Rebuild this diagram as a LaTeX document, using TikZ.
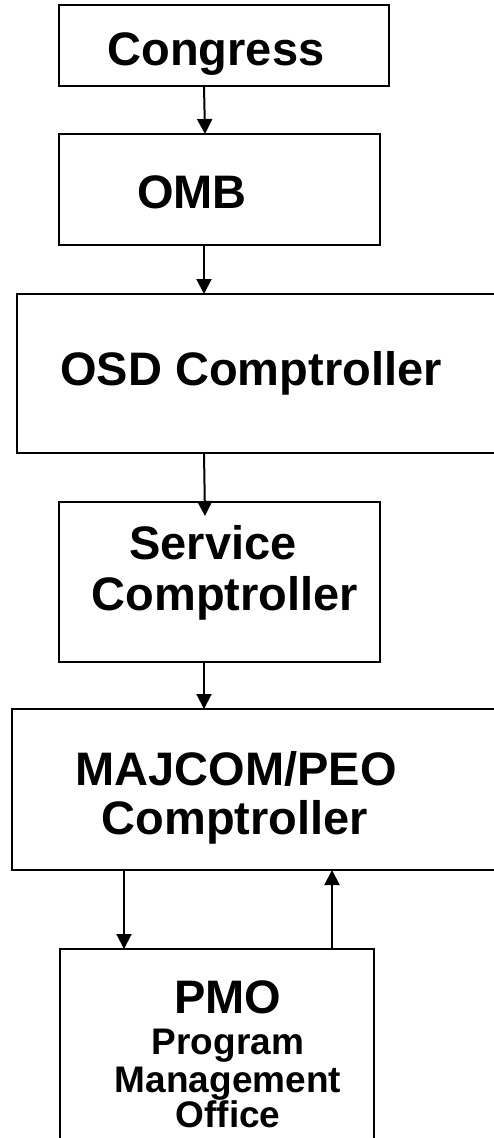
\documentclass[tikz,border=0pt]{standalone}
\usepackage{fontspec}
\setmainfont{Liberation Sans}
\usetikzlibrary{arrows.meta}
\tikzset{
  box/.style={draw=black, line width=2pt, inner sep=0pt, outer sep=0pt, anchor=north west},
  big/.style={inner sep=0pt, anchor=base, font=\fontsize{47}{52}\selectfont\bfseries},
  small/.style={inner sep=0pt, anchor=base, font=\fontsize{37}{38}\selectfont\bfseries},
  flow/.style={draw=black, line width=2pt, -{Triangle[width=15pt,length=15pt]}}
}
\begin{document}
\begin{tikzpicture}[x=1pt,y=-1pt]
\useasboundingbox (0,0) rectangle (494,1138);
\clip (0,0) rectangle (494,1138);
\fill[white] (0,0) rectangle (494,1138);
% boxes
\node[box, minimum width=330pt, minimum height=81pt] (congress) at (59,5) {};
\node[box, minimum width=321pt, minimum height=111pt] (omb) at (59,134) {};
\node[box, minimum width=490pt, minimum height=159pt] (osd) at (17,294) {};
\node[box, minimum width=321pt, minimum height=160pt] (service) at (59,502) {};
\node[box, minimum width=500pt, minimum height=161pt] (majcom) at (12,709) {};
\node[box, minimum width=314pt, minimum height=230pt] (pmo) at (60,949) {};
% texts
\node[big] (tcongress) at (216,65) {Congress};
\node[big] (tomb) at (192,208) {OMB};
\node[big] (tosd) at (251,385) {OSD Comptroller};
\node[big] (tserv1) at (213,559) {Service};
\node[big] (tserv2) at (225,610) {Comptroller};
\node[big] (tmaj1) at (236,785) {MAJCOM/PEO};
\node[big] (tmaj2) at (235,834) {Comptroller};
\node[big] (tpmo) at (228,1013) {PMO};
\node[small] (tpmo1) at (228,1054) {Program};
\node[small] (tpmo2) at (228,1092) {Management};
\node[small] (tpmo3) at (228,1127) {Office};
% connectors
\draw[flow] ([xshift=145pt]congress.south west) -- ([xshift=146pt]omb.north west);
\draw[flow] ([xshift=145pt]omb.south west) -- ([xshift=187pt]osd.north west);
\draw[flow] ([xshift=187pt]osd.south west) -- ([xshift=146pt,yshift=-14pt]service.north west);
\draw[flow] ([xshift=145pt]service.south west) -- ([xshift=192pt]majcom.north west);
\draw[flow] ([xshift=112pt]majcom.south west) -- ([xshift=64pt]pmo.north west);
\draw[flow] ([xshift=272pt]pmo.north west) -- ([xshift=320pt]majcom.south west);
\end{tikzpicture}
\end{document}
